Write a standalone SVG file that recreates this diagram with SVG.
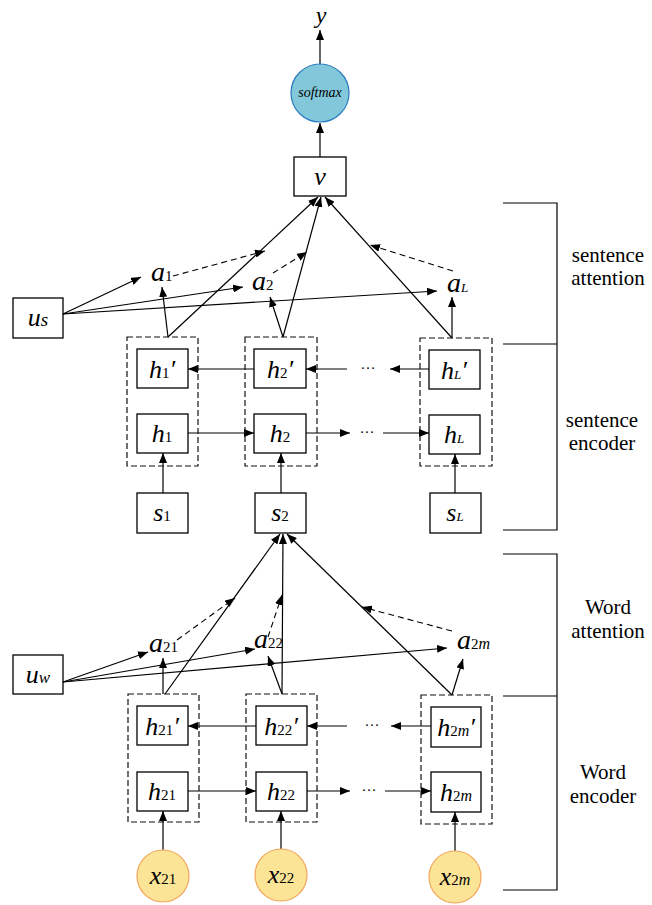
<svg xmlns="http://www.w3.org/2000/svg" width="652" height="905" viewBox="0 0 652 905">
<defs>
<marker id="ah" viewBox="0 0 10 8" refX="10" refY="4" markerWidth="10" markerHeight="8" markerUnits="userSpaceOnUse" orient="auto"><path d="M0,0 L10,4 L0,8 z" fill="#000"/></marker>
<style>
.box{fill:#fff;stroke:#000;stroke-width:1.3}
.dbox{fill:none;stroke:#111;stroke-width:1.2;stroke-dasharray:6,3}
.ln{fill:none;stroke:#000;stroke-width:1.2}
.arr{fill:none;stroke:#000;stroke-width:1.2;marker-end:url(#ah)}
.darr{fill:none;stroke:#000;stroke-width:1.1;stroke-dasharray:6,4;marker-end:url(#ah)}
.t{font-family:"Liberation Serif","Times New Roman",serif;font-size:26px;font-style:italic;fill:#000}
.ta{font-size:28px}
.sub{font-size:15px;font-style:normal}
.subi{font-size:13px;font-style:italic}
.subm{font-size:16px;font-style:italic}
.subs{font-size:19px;font-style:italic}
.lab{font-family:"Liberation Serif","Times New Roman",serif;font-size:21px;fill:#000;text-anchor:middle}
.dots{font-family:"Liberation Serif","Times New Roman",serif;font-size:15px;fill:#000;text-anchor:middle}
.m{text-anchor:middle}
</style>
</defs>
<rect width="652" height="905" fill="#fff"/>

<g id="connectors">
<line class="arr" x1="320" y1="64" x2="320" y2="30"/>
<line class="arr" x1="320" y1="157" x2="320" y2="123"/>
<line class="arr" x1="63" y1="314" x2="141" y2="277"/>
<line class="arr" x1="63" y1="314" x2="243" y2="287"/>
<line class="arr" x1="63" y1="314" x2="437" y2="291"/>
<line class="darr" x1="173" y1="276" x2="265" y2="251"/>
<line class="darr" x1="273" y1="273" x2="307" y2="252"/>
<line class="darr" x1="453" y1="271" x2="370" y2="245"/>
<line class="arr" x1="168" y1="337" x2="318" y2="197"/>
<line class="arr" x1="283" y1="337" x2="321" y2="197"/>
<line class="arr" x1="452" y1="338" x2="325" y2="197"/>
<line class="arr" x1="168" y1="337" x2="162" y2="287"/>
<line class="arr" x1="283" y1="337" x2="270" y2="297"/>
<line class="arr" x1="452" y1="338" x2="452" y2="297"/>
<line class="arr" x1="254" y1="369" x2="188" y2="369"/>
<line class="arr" x1="347" y1="369" x2="306" y2="369"/>
<line class="arr" x1="429" y1="369" x2="390" y2="369"/>
<line class="arr" x1="188" y1="433" x2="254" y2="433"/>
<line class="arr" x1="306" y1="433" x2="350" y2="433"/>
<line class="arr" x1="383" y1="433" x2="429" y2="433"/>
<line class="arr" x1="163" y1="493" x2="163" y2="453"/>
<line class="arr" x1="281" y1="493" x2="281" y2="453"/>
<line class="arr" x1="455" y1="493" x2="455" y2="454"/>
<line class="arr" x1="63" y1="682" x2="148" y2="652"/>
<line class="arr" x1="63" y1="682" x2="255" y2="649"/>
<line class="arr" x1="63" y1="682" x2="447" y2="648"/>
<line class="darr" x1="177" y1="640" x2="235" y2="598"/>
<line class="darr" x1="268" y1="637" x2="282" y2="595"/>
<line class="darr" x1="452" y1="631" x2="362" y2="607"/>
<line class="arr" x1="165" y1="694" x2="280" y2="534"/>
<line class="arr" x1="282" y1="694" x2="283" y2="534"/>
<line class="arr" x1="452" y1="695" x2="287" y2="534"/>
<line class="arr" x1="163" y1="694" x2="163" y2="658"/>
<line class="arr" x1="282" y1="694" x2="268" y2="656"/>
<line class="arr" x1="452" y1="695" x2="463" y2="659"/>
<line class="arr" x1="256" y1="726" x2="188" y2="726"/>
<line class="arr" x1="347" y1="726" x2="307" y2="726"/>
<line class="arr" x1="431" y1="726" x2="391" y2="726"/>
<line class="arr" x1="188" y1="791" x2="256" y2="791"/>
<line class="arr" x1="307" y1="791" x2="350" y2="791"/>
<line class="arr" x1="385" y1="791" x2="431" y2="791"/>
<line class="arr" x1="163" y1="850" x2="163" y2="811"/>
<line class="arr" x1="281" y1="849" x2="281" y2="811"/>
<line class="arr" x1="455" y1="851" x2="455" y2="812"/>
</g>

<g id="dots">
<text class="dots" x="368" y="373">···</text>
<text class="dots" x="367" y="437">···</text>
<text class="dots" x="372" y="730">···</text>
<text class="dots" x="369" y="795">···</text>
</g>

<g id="y"><text class="t m" x="321" y="23" style="font-size:24px">y</text></g>
<g id="softmax"><circle cx="320" cy="93" r="29" fill="#82c8da" stroke="#2a7cc0" stroke-width="1.2"/><text class="t m" x="320" y="97" style="font-size:14px">softmax</text></g>
<g id="v"><rect class="box" x="294" y="157" width="52" height="39"/><text class="t m" x="320" y="185">v</text></g>

<g id="us"><rect class="box" x="13" y="298" width="50" height="40"/><text class="t m" x="38" y="326">u<tspan class="subs">s</tspan></text></g>
<g id="a1"><text class="t ta" x="151" y="281">a<tspan class="sub">1</tspan></text></g>
<g id="a2"><text class="t ta" x="252" y="290">a<tspan class="sub">2</tspan></text></g>
<g id="aL"><text class="t ta" x="447" y="292">a<tspan class="subi">L</tspan></text></g>

<g id="col1"><rect class="dbox" x="127" y="337" width="71" height="129"/></g>
<g id="col2"><rect class="dbox" x="245" y="337" width="72" height="129"/></g>
<g id="colL"><rect class="dbox" x="420" y="338" width="72" height="128"/></g>
<g id="h1p"><rect class="box" x="137" y="349" width="51" height="39"/><text class="t m" x="162" y="378">h<tspan class="sub">1</tspan>′</text></g>
<g id="h2p"><rect class="box" x="254" y="349" width="52" height="39"/><text class="t m" x="280" y="378">h<tspan class="sub">2</tspan>′</text></g>
<g id="hLp"><rect class="box" x="429" y="350" width="51" height="39"/><text class="t m" x="454" y="379">h<tspan class="subi">L</tspan>′</text></g>
<g id="h1"><rect class="box" x="137" y="414" width="51" height="39"/><text class="t m" x="162" y="442">h<tspan class="sub">1</tspan></text></g>
<g id="h2"><rect class="box" x="254" y="414" width="52" height="39"/><text class="t m" x="280" y="442">h<tspan class="sub">2</tspan></text></g>
<g id="hL"><rect class="box" x="429" y="415" width="51" height="39"/><text class="t m" x="454" y="443">h<tspan class="subi">L</tspan></text></g>
<g id="s1"><rect class="box" x="137" y="493" width="51" height="40"/><text class="t m" x="162" y="521">s<tspan class="sub">1</tspan></text></g>
<g id="s2"><rect class="box" x="255" y="493" width="51" height="40"/><text class="t m" x="280" y="521">s<tspan class="sub">2</tspan></text></g>
<g id="sL"><rect class="box" x="430" y="493" width="51" height="40"/><text class="t m" x="455" y="521">s<tspan class="subi">L</tspan></text></g>

<g id="uw"><rect class="box" x="13" y="655" width="50" height="39"/><text class="t m" x="38" y="683">u<tspan class="subs" style="font-size:17px">w</tspan></text></g>
<g id="a21"><text class="t ta" x="149" y="652">a<tspan class="sub">21</tspan></text></g>
<g id="a22"><text class="t ta" x="254" y="648">a<tspan class="sub">22</tspan></text></g>
<g id="a2m"><text class="t ta" x="457" y="649">a<tspan class="sub">2</tspan><tspan class="subm">m</tspan></text></g>

<g id="wcol1"><rect class="dbox" x="128" y="694" width="71" height="128"/></g>
<g id="wcol2"><rect class="dbox" x="246" y="694" width="71" height="128"/></g>
<g id="wcolm"><rect class="dbox" x="421" y="695" width="71" height="129"/></g>
<g id="h21p"><rect class="box" x="137" y="706" width="51" height="39"/><text class="t m" x="162" y="735">h<tspan class="sub">21</tspan>′</text></g>
<g id="h22p"><rect class="box" x="256" y="706" width="51" height="39"/><text class="t m" x="281" y="735">h<tspan class="sub">22</tspan>′</text></g>
<g id="h2mp"><rect class="box" x="431" y="707" width="50" height="40"/><text class="t m" x="456" y="736">h<tspan class="sub">2</tspan><tspan class="subm">m</tspan>′</text></g>
<g id="h21"><rect class="box" x="137" y="772" width="51" height="39"/><text class="t m" x="162" y="800">h<tspan class="sub">21</tspan></text></g>
<g id="h22"><rect class="box" x="256" y="772" width="51" height="39"/><text class="t m" x="281" y="800">h<tspan class="sub">22</tspan></text></g>
<g id="h2m"><rect class="box" x="431" y="772" width="50" height="40"/><text class="t m" x="456" y="801">h<tspan class="sub">2</tspan><tspan class="subm">m</tspan></text></g>
<g id="x21"><circle cx="163" cy="876" r="26" fill="#fce497" stroke="#f2a65a" stroke-width="1.2"/><text class="t m" x="163" y="884">x<tspan class="sub">21</tspan></text></g>
<g id="x22"><circle cx="281" cy="875" r="26" fill="#fce497" stroke="#f2a65a" stroke-width="1.2"/><text class="t m" x="281" y="883">x<tspan class="sub">22</tspan></text></g>
<g id="x2m"><circle cx="455" cy="877" r="26" fill="#fce497" stroke="#f2a65a" stroke-width="1.2"/><text class="t m" x="455" y="885">x<tspan class="sub">2</tspan><tspan class="subm">m</tspan></text></g>

<g id="brackets">
<path class="ln" d="M503,203 H557 V530 H503 M503,344 H557"/>
<path class="ln" d="M503,554 H557 V890 H503 M503,696 H557"/>
</g>
<g id="labels">
<text class="lab" x="608" y="262">sentence</text>
<text class="lab" x="608" y="285">attention</text>
<text class="lab" x="602" y="427">sentence</text>
<text class="lab" x="602" y="450">encoder</text>
<text class="lab" x="608" y="614">Word</text>
<text class="lab" x="608" y="638">attention</text>
<text class="lab" x="603" y="779">Word</text>
<text class="lab" x="603" y="803">encoder</text>
</g>
</svg>
